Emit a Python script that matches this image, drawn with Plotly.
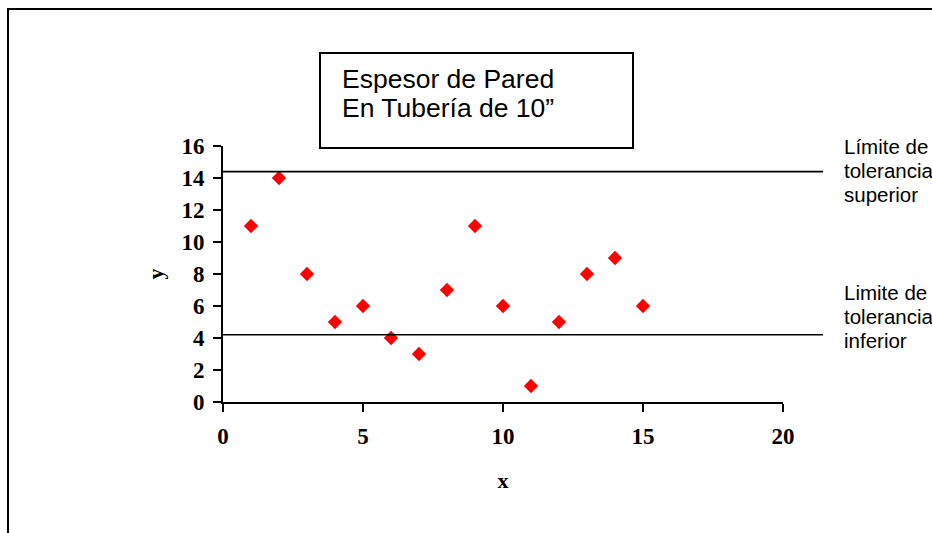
import plotly.graph_objects as go

# ---- data ----
x_vals = [1, 2, 3, 4, 5, 6, 7, 8, 9, 10, 11, 12, 13, 14, 15]
y_vals = [11, 14, 8, 5, 6, 4, 3, 7, 11, 6, 1, 5, 8, 9, 6]
upper_limit = 14.4
lower_limit = 4.2
x_ticks = [0, 5, 10, 15, 20]
y_ticks = [0, 2, 4, 6, 8, 10, 12, 14, 16]
title_lines = ["Espesor de Pared", "En Tubería de 10\u201d"]
upper_label = ["Límite de", "tolerancia", "superior"]
lower_label = ["Limite de", "tolerancia", "inferior"]

W, H = 932, 533
L, R, T, B = 223, 149, 146, 131
PW, PH = W - L - R, H - T - B


def px(xp):
    return (xp - L) / PW


def py(yp):
    return (H - B - yp) / PH


SERIF = "Liberation Serif"
SANS = "Liberation Sans"

fig = go.Figure()
fig.add_trace(go.Scatter(
    x=x_vals, y=y_vals, mode="markers",
    marker=dict(symbol="diamond", size=11, color="#FF0000", line=dict(width=0)),
    showlegend=False, cliponaxis=False,
))

tick_font = dict(family=SERIF, size=23, color="black", weight="bold")
title_font = dict(family=SERIF, size=22, color="black", weight="bold")

fig.update_xaxes(
    range=[0, 20], tickmode="array", tickvals=x_ticks, ticktext=[str(v) for v in x_ticks],
    showgrid=False, zeroline=False, showline=True, linecolor="black", linewidth=2,
    ticks="outside", ticklen=8, tickwidth=2, tickcolor="black", tickfont=tick_font,
    ticklabelstandoff=4,
    title=dict(text="x", font=title_font, standoff=25),
)
fig.update_yaxes(
    range=[0, 16], tickmode="array", tickvals=y_ticks, ticktext=[str(v) for v in y_ticks],
    showgrid=False, zeroline=False, showline=True, linecolor="black", linewidth=2,
    ticks="outside", ticklen=8, tickwidth=2, tickcolor="black", tickfont=tick_font,
    ticklabelstandoff=4,
    title=dict(text="y", font=title_font, standoff=12),
)

shapes = []
# outer chart border (clipped by window on right/bottom)
shapes.append(dict(type="rect", xref="paper", yref="paper",
                   x0=px(8), x1=px(1200), y0=py(9), y1=py(800),
                   line=dict(color="black", width=2), layer="below"))
# title box
shapes.append(dict(type="rect", xref="paper", yref="paper",
                   x0=px(320), x1=px(633), y0=py(53), y1=py(148),
                   line=dict(color="black", width=2), fillcolor="white"))
# tolerance lines
for lim in (upper_limit, lower_limit):
    shapes.append(dict(type="line", xref="paper", yref="y",
                       x0=0, x1=px(823), y0=lim, y1=lim,
                       line=dict(color="black", width=1.6)))
fig.update_layout(shapes=shapes)

annotations = []
for i, t in enumerate(title_lines):
    annotations.append(dict(text=t, xref="paper", yref="paper", x=px(340), y=py(78.7 + 29.6 * i),
                            xanchor="left", yanchor="middle", showarrow=False,
                            font=dict(family=SANS, size=26.5, color="black")))
for i, t in enumerate(upper_label):
    annotations.append(dict(text=t, xref="paper", yref="paper", x=px(842), y=py(146.7 + 24 * i),
                            xanchor="left", yanchor="middle", showarrow=False,
                            font=dict(family=SANS, size=20.5, color="black")))
for i, t in enumerate(lower_label):
    annotations.append(dict(text=t, xref="paper", yref="paper", x=px(842), y=py(292.7 + 24 * i),
                            xanchor="left", yanchor="middle", showarrow=False,
                            font=dict(family=SANS, size=20.5, color="black")))
fig.update_layout(annotations=annotations)

fig.update_layout(
    width=W, height=H,
    margin=dict(l=L, r=R, t=T, b=B, pad=0),
    paper_bgcolor="white", plot_bgcolor="white",
    showlegend=False,
)

fig.write_html("out.html", config={"displayModeBar": False})
